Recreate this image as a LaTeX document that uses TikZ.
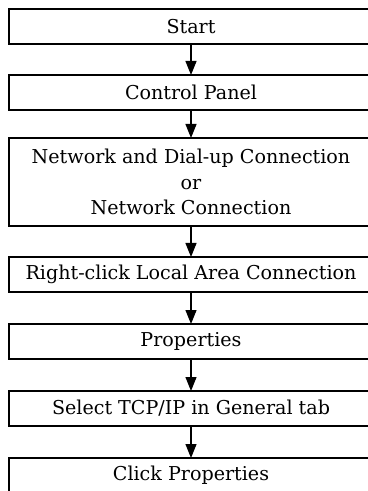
\documentclass[tikz,border=0pt]{standalone}
\usepackage{fontspec}
\newfontfamily\slabfont{DejaVu Serif}
\usepackage{tikz}
\usetikzlibrary{arrows.meta,positioning}

\begin{document}
\begin{tikzpicture}[
  x=0.5pt, y=-0.5pt,
  node distance=15.5pt,
  stepbox/.style={draw, line width=1.2pt, outer sep=0pt, align=center, minimum width=182pt, minimum height=17.5pt, inner sep=0pt, font=\slabfont\fontsize{9.55}{12.8}\selectfont},
  arrow/.style={-{Triangle[length=7pt,width=5.5pt]}, line width=0.6pt}
]
\useasboundingbox (0,0) rectangle (368,491);
\clip (0,0) rectangle (368,491);

\node[stepbox] (start) at (191,26.5) {Start};
\node[stepbox, below=of start] (panel) {Control Panel};
\node[stepbox, below=14pt of panel, minimum height=44pt] (netconn)
  {Network and Dial-up Connection\\or\\Network Connection};
\node[stepbox, below=of netconn] (rclick) {Right-click Local Area Connection};
\node[stepbox, below=16pt of rclick] (props) {Properties};
\node[stepbox, below=16pt of props] (tcpip) {Select TCP/IP in General tab};
\node[stepbox, below=16pt of tcpip] (clickprops) {Click Properties};

\draw[arrow] (start.south) -- (panel.north);
\draw[arrow] (panel.south) -- (netconn.north);
\draw[arrow] (netconn.south) -- (rclick.north);
\draw[arrow] (rclick.south) -- (props.north);
\draw[arrow] (props.south) -- (tcpip.north);
\draw[arrow] (tcpip.south) -- (clickprops.north);
\end{tikzpicture}
\end{document}
